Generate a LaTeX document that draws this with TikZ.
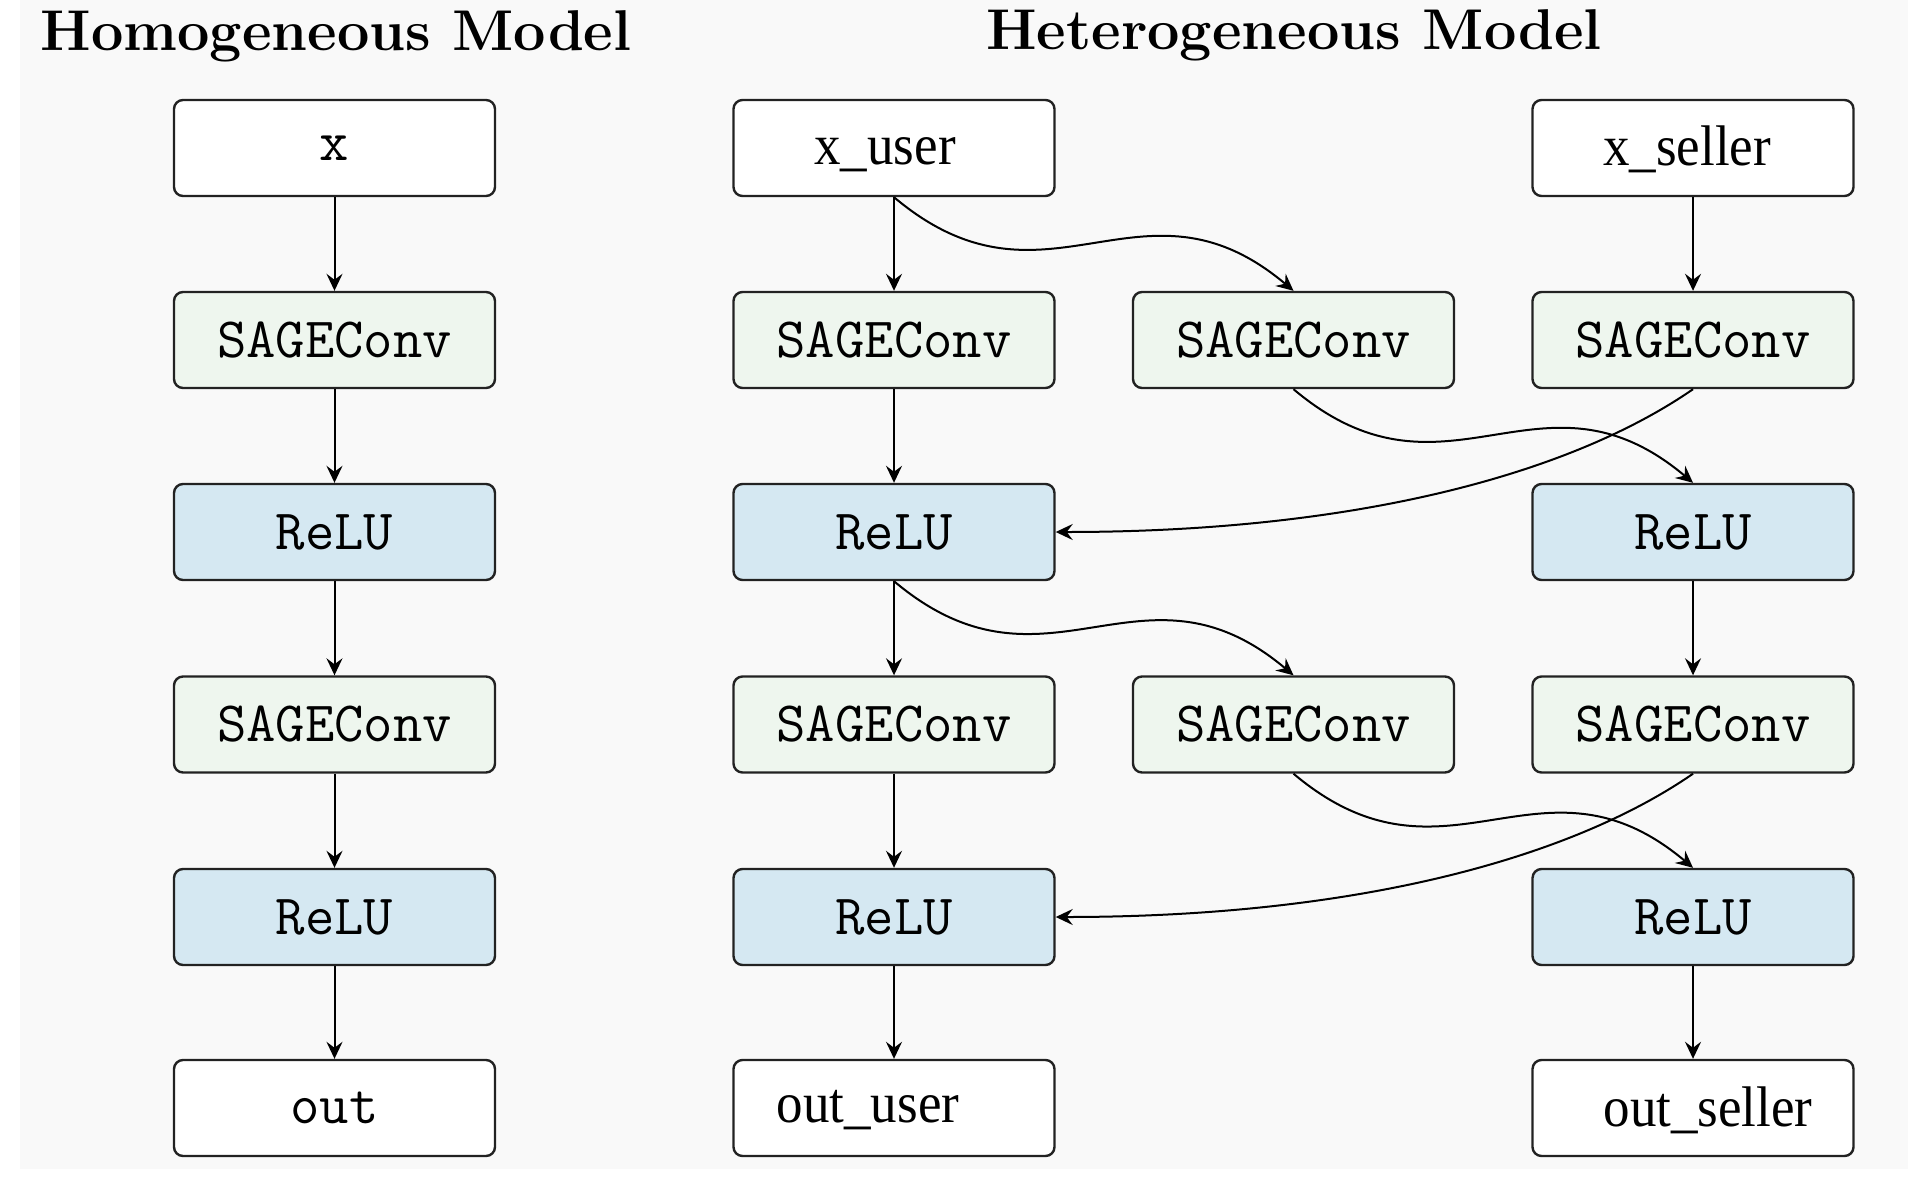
\documentclass[tikz,border=0pt]{standalone}
\usepackage{fontspec}
\usepackage{graphicx}
\newfontfamily\timesfont{Liberation Serif}
\usetikzlibrary{arrows.meta}
\definecolor{bgpanel}{HTML}{F9F9F9}
\definecolor{sagegreen}{HTML}{EEF6EE}
\definecolor{relublue}{HTML}{D5E8F2}
\definecolor{edgegray}{HTML}{222222}
\begin{document}
\begin{tikzpicture}[x=1pt,y=-1pt,
  box/.style={draw=edgegray, line width=2.4pt, rounded corners=9pt,
    minimum width=321pt, minimum height=96pt, inner sep=0pt,
    font=\fontsize{57}{62}\selectfont\ttfamily, text=black},
  iobox/.style={box, fill=white},
  sagebox/.style={box, fill=sagegreen},
  relubox/.style={box, fill=relublue},
  serlab/.style={anchor=base, inner sep=0pt, font=\fontsize{53}{60}\selectfont\timesfont},
  titlelab/.style={anchor=base, inner sep=0pt, font=\fontsize{57.5}{64}\selectfont\bfseries},
  arr/.style={-{Stealth[length=17pt,width=16pt,inset=6pt]}, line width=2pt, black},
  wave/.style={arr}
]
\useasboundingbox (0,0) rectangle (1908,1186);
\fill[white] (0,0) rectangle (1908,1186);
\fill[bgpanel] (20,0) rectangle (1908,1169);

% titles
\node[titlelab] (t1) at (336,50) {Homogeneous Model};
\node[titlelab] (t2) at (1294,49) {Heterogeneous Model};

% homogeneous column
\node[iobox]   (hx)  at (334.5,148) {x};
\node[sagebox] (hs1) at (334.5,340) {SAGEConv};
\node[relubox] (hr1) at (334.5,532) {ReLU};
\node[sagebox] (hs2) at (334.5,724.5) {SAGEConv};
\node[relubox] (hr2) at (334.5,917) {ReLU};
\node[iobox]   (ho)  at (334.5,1108) {out};

\draw[arr] (hx) -- (hs1);
\draw[arr] (hs1) -- (hr1);
\draw[arr] (hr1) -- (hs2);
\draw[arr] (hs2) -- (hr2);
\draw[arr] (hr2) -- (ho);

% heterogeneous: user column
\node[iobox]   (xu)  at (894,148) {};
\node[serlab]  (xuT) at (885,164) {\scalebox{1}[1.08]{x\_user}};
\node[sagebox] (su1) at (894,340) {SAGEConv};
\node[relubox] (ru1) at (894,532) {ReLU};
\node[sagebox] (su2) at (894,724.5) {SAGEConv};
\node[relubox] (ru2) at (894,917) {ReLU};
\node[iobox]   (ou)  at (894,1108) {};
\node[serlab]  (ouT) at (868,1122) {\scalebox{1}[1.08]{out\_user}};

% middle column
\node[sagebox] (sm1) at (1293.5,340) {SAGEConv};
\node[sagebox] (sm2) at (1293.5,724.5) {SAGEConv};

% seller column
\node[iobox]   (xs)  at (1693,148) {};
\node[serlab]  (xsT) at (1687,165) {\scalebox{1}[1.08]{x\_seller}};
\node[sagebox] (ss1) at (1693,340) {SAGEConv};
\node[relubox] (rs1) at (1693,532) {ReLU};
\node[sagebox] (ss2) at (1693,724.5) {SAGEConv};
\node[relubox] (rs2) at (1693,917) {ReLU};
\node[iobox]   (os)  at (1693,1108) {};
\node[serlab]  (osT) at (1708,1126) {\scalebox{1}[1.08]{out\_seller}};

% straight arrows
\draw[arr] (xu) -- (su1);
\draw[arr] (su1) -- (ru1);
\draw[arr] (ru1) -- (su2);
\draw[arr] (su2) -- (ru2);
\draw[arr] (ru2) -- (ou);
\draw[arr] (xs) -- (ss1);
\draw[arr] (rs1) -- (ss2);
\draw[arr] (rs2) -- (os);

% curved arrows, layer 1
\draw[wave] (xu.south) .. controls +(153,129) and +(-153,-129) .. (sm1.north);
\draw[wave] (sm1.south) .. controls +(153,129) and +(-153,-129) .. (rs1.north);
\draw[wave] (ss1.south) .. controls +(-123,85) and +(300,0) .. (ru1.east);

% curved arrows, layer 2
\draw[wave] (ru1.south) .. controls +(153,129) and +(-153,-129) .. (sm2.north);
\draw[wave] (sm2.south) .. controls +(153,129) and +(-153,-129) .. (rs2.north);
\draw[wave] (ss2.south) .. controls +(-123,85) and +(300,0) .. (ru2.east);
\end{tikzpicture}
\end{document}
